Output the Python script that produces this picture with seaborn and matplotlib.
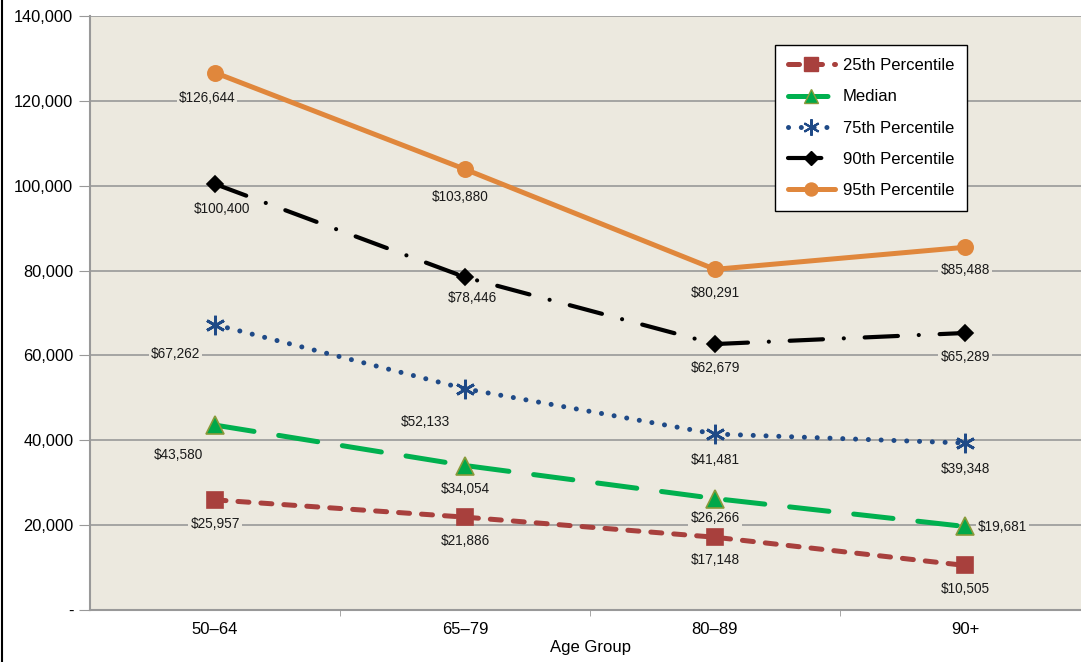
import numpy as np
import pandas as pd
import matplotlib
matplotlib.use("Agg")
import matplotlib.pyplot as plt
import matplotlib.ticker as mticker
from matplotlib.lines import Line2D
import seaborn as sns

# ---- data ----
age_groups = ["50–64", "65–79", "80–89", "90+"]
p25 = [25957, 21886, 17148, 10505]
median = [43580, 34054, 26266, 19681]
p75 = [67262, 52133, 41481, 39348]
p90 = [100400, 78446, 62679, 65289]
p95 = [126644, 103880, 80291, 85488]

series_names = ["25th Percentile", "Median", "75th Percentile", "90th Percentile", "95th Percentile"]
series_vals = [p25, median, p75, p90, p95]

df = pd.DataFrame({
    "Age Group": age_groups * len(series_names),
    "value": [v for vals in series_vals for v in vals],
    "series": [n for n in series_names for _ in age_groups],
})

plt.rcParams["font.family"] = ["Liberation Sans", "DejaVu Sans"]

# ---- styles (round caps, so dash lengths are compensated) ----
bg = "#ECE9DF"
styles = {
    "25th Percentile": dict(color="#A8403D", lw=3.6, ls=(0, (2.2, 2.4)), marker="s", ms=11.5,
                            mec="#A8403D", mfc="#A8403D"),
    "Median": dict(color="#00B04F", lw=3.6, ls=(0, (7.9, 5.0)), marker="^", ms=12.5,
                   mec="#8A9A3A", mfc="#00A84A"),
    "75th Percentile": dict(color="#1F4A87", lw=3.6, ls=(0, (0.01, 2.55)), marker=(6, 2, 0), ms=14,
                            mec="#1F4A87", mfc="#1F4A87"),
    "90th Percentile": dict(color="#000000", lw=3.0, ls=(0, (8, 5, 0.01, 5)), marker="D", ms=8.5,
                            mec="#000000", mfc="#000000"),
    "95th Percentile": dict(color="#E0873C", lw=3.6, ls="-", marker="o", ms=11,
                            mec="#E0873C", mfc="#E0873C"),
}

# label offsets in pixels (dx, dy, ha)
offsets = {
    "25th Percentile": [(0, -24, "center"), (0, -24, "center"), (0, -23, "center"), (0, -24, "center")],
    "Median": [(-37, -30, "center"), (0, -23, "center"), (0, -19, "center"), (13, -1, "left")],
    "75th Percentile": [(-15, -29, "right"), (-40, -33, "center"), (0, -26, "center"), (0, -26, "center")],
    "90th Percentile": [(7, -25, "center"), (7, -21, "center"), (0, -24, "center"), (0, -24, "center")],
    "95th Percentile": [(-8, -25, "center"), (-5, -28, "center"), (0, -24, "center"), (0, -23, "center")],
}

fig = plt.figure(figsize=(10.81, 6.62), dpi=100)
fig.patch.set_facecolor("white")
ax = fig.add_axes([90 / 1081, 52 / 662, 1000 / 1081, 594 / 662])
ax.set_facecolor(bg)

handles = []
for name in series_names:
    st = styles[name]
    sub = df[df["series"] == name]
    sns.lineplot(data=sub, x="Age Group", y="value", ax=ax, color=st["color"], lw=st["lw"],
                 sort=False, legend=False, zorder=3)
    line = ax.lines[-1]
    line.set_linestyle(st["ls"])
    line.set_dash_capstyle("round")
    line.set_solid_capstyle("round")
    ax.plot(range(len(age_groups)), sub["value"], ls="none", marker=st["marker"], ms=st["ms"],
            mec=st["mec"], mfc=st["mfc"], mew=2 if name == "75th Percentile" else 1.2, zorder=4)
    handles.append(Line2D([], [], color=st["color"], lw=st["lw"], ls=st["ls"], marker=st["marker"],
                          ms=st["ms"] * 0.85, mec=st["mec"], mfc=st["mfc"],
                          dash_capstyle="round", solid_capstyle="round",
                          mew=1.5 if name == "75th Percentile" else 1.0))
    for i, v in enumerate(sub["value"]):
        dx, dy, ha = offsets[name][i]
        ax.annotate(f"${v:,.0f}", (i, v), xytext=(dx, dy), textcoords="offset pixels",
                    ha=ha, va="center", fontsize=9.8, color="#1a1a1a", zorder=5,
                    bbox=dict(boxstyle="square,pad=0.15", fc=bg, ec="none"))

ax.set_xlim(-0.5, 3.5)
ax.set_ylim(0, 140000)
ax.set_yticks(np.arange(0, 140001, 20000))
ax.yaxis.set_major_formatter(mticker.FuncFormatter(lambda v, p: "-" if v == 0 else f"{v:,.0f}"))
ax.set_xticks(range(len(age_groups)))
ax.set_xticklabels(age_groups)
ax.set_xticks([0.5, 1.5, 2.5], minor=True)
ax.tick_params(axis="x", which="major", length=0, pad=9, labelsize=12)
ax.tick_params(axis="x", which="minor", length=4, color="#999999")
ax.tick_params(axis="y", length=8, color="#999999", labelsize=11.8, pad=4)
ax.grid(axis="y", color="#999999", lw=1.2, zorder=1)
ax.set_axisbelow(True)
for s in ["top", "right"]:
    ax.spines[s].set_visible(False)
for s in ["left", "bottom"]:
    ax.spines[s].set_color("#999999")
    ax.spines[s].set_linewidth(1.5)
ax.set_xlabel("Age Group", fontsize=12, labelpad=2)
ax.set_ylabel("")

leg = ax.legend(handles, series_names, loc="upper left", bbox_to_anchor=(685 / 1000, 565 / 594),
                borderaxespad=0, frameon=True, fancybox=False, edgecolor="black", facecolor="white",
                fontsize=12, handlelength=2.8, handletextpad=0.5, labelspacing=0.98,
                borderpad=0.78, framealpha=1)
leg.get_frame().set_linewidth(1.0)

fig.add_artist(Line2D([2 / 1081, 2 / 1081], [0, 1], color="black", lw=1.5))

fig.savefig("out.png", dpi=100, facecolor="white")
